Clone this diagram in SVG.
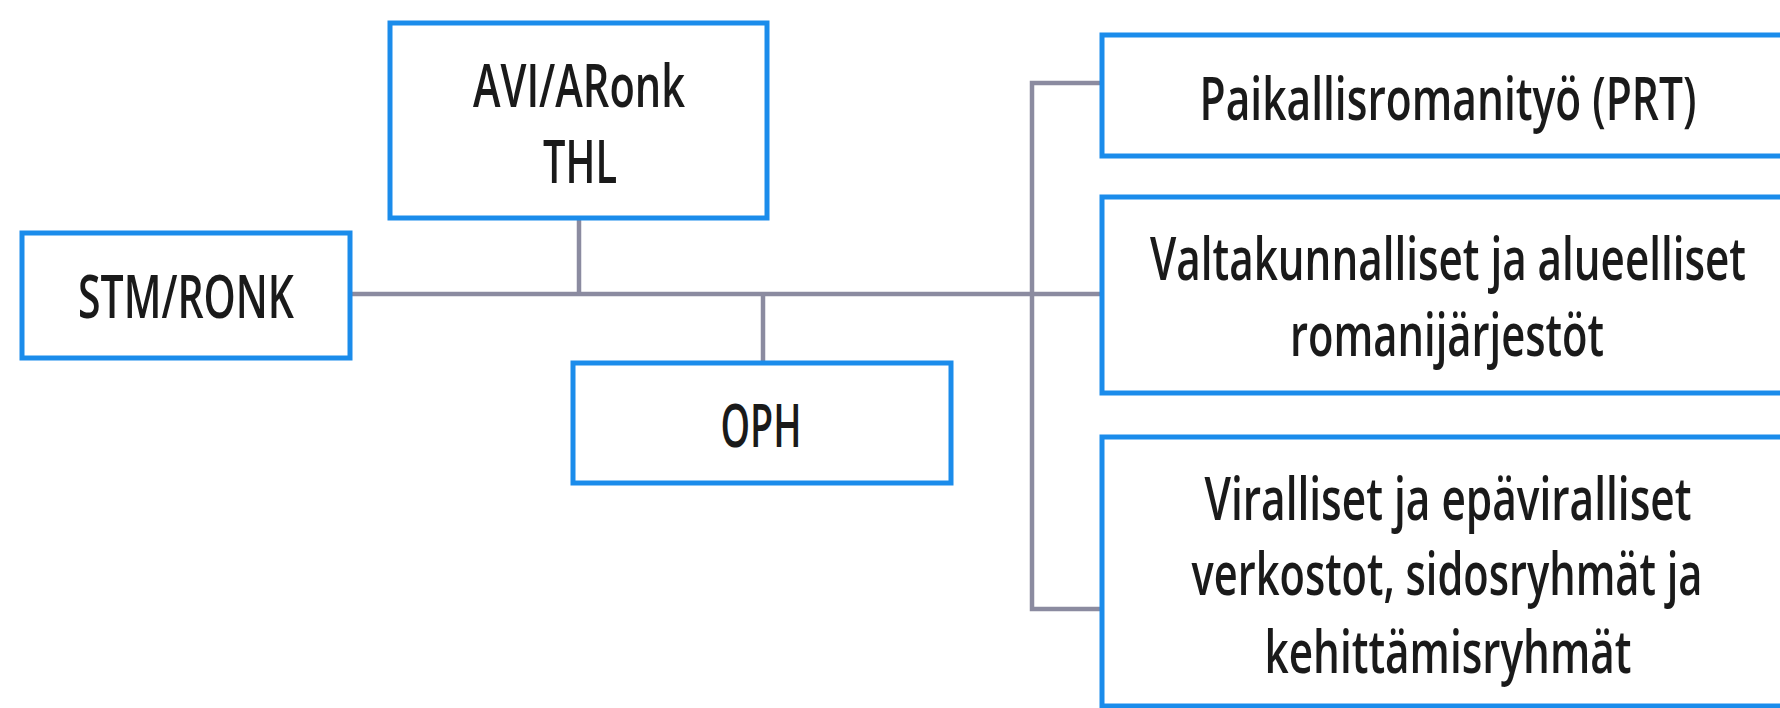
<svg xmlns="http://www.w3.org/2000/svg" width="1780" height="708" viewBox="0 0 1780 708">
  <style>
    .box { fill: #ffffff; stroke: #1b8ceb; stroke-width: 5; }
    .conn { fill: none; stroke: #8b8ba0; stroke-width: 4.5; }
    .lbl { font-family: "Open Sans", "Noto Sans", "Liberation Sans", sans-serif; font-size: 60px; font-weight: 600; fill: #1a1a1a; text-anchor: middle; }
  </style>
  <rect width="1780" height="708" fill="#ffffff"/>
  <g id="connectors">
    <line class="conn" x1="350" y1="294" x2="1102" y2="294"/>
    <line class="conn" x1="579" y1="218" x2="579" y2="294"/>
    <line class="conn" x1="763" y1="294" x2="763" y2="363"/>
    <path class="conn" d="M1102,83 H1032 V609 H1102"/>
  </g>
  <g id="stm">
    <rect class="box" x="22" y="233" width="328" height="125"/>
    <text class="lbl" x="186" y="318" textLength="216" lengthAdjust="spacingAndGlyphs">STM/RONK</text>
  </g>
  <g id="avi">
    <rect class="box" x="390" y="23" width="377" height="195"/>
    <text class="lbl" x="579" y="107" textLength="212" lengthAdjust="spacingAndGlyphs">AVI/ARonk</text>
    <text class="lbl" x="580" y="183" textLength="74" lengthAdjust="spacingAndGlyphs">THL</text>
  </g>
  <g id="oph">
    <rect class="box" x="573" y="363" width="378" height="120"/>
    <text class="lbl" x="761" y="447" textLength="81" lengthAdjust="spacingAndGlyphs">OPH</text>
  </g>
  <g id="prt">
    <rect class="box" x="1102" y="35" width="684" height="121"/>
    <text class="lbl" x="1448" y="120" textLength="497" lengthAdjust="spacingAndGlyphs">Paikallisromanityö (PRT)</text>
  </g>
  <g id="jarjestot">
    <rect class="box" x="1102" y="197" width="684" height="196"/>
    <text class="lbl" x="1448" y="280" textLength="596" lengthAdjust="spacingAndGlyphs">Valtakunnalliset ja alueelliset</text>
    <text class="lbl" x="1447" y="356" textLength="314" lengthAdjust="spacingAndGlyphs">romanijärjestöt</text>
  </g>
  <g id="verkostot">
    <rect class="box" x="1102" y="437" width="684" height="269"/>
    <text class="lbl" x="1448" y="520" textLength="487" lengthAdjust="spacingAndGlyphs">Viralliset ja epäviralliset</text>
    <text class="lbl" x="1447" y="595" textLength="511" lengthAdjust="spacingAndGlyphs">verkostot, sidosryhmät ja</text>
    <text class="lbl" x="1448" y="673" textLength="367" lengthAdjust="spacingAndGlyphs">kehittämisryhmät</text>
  </g>
</svg>
